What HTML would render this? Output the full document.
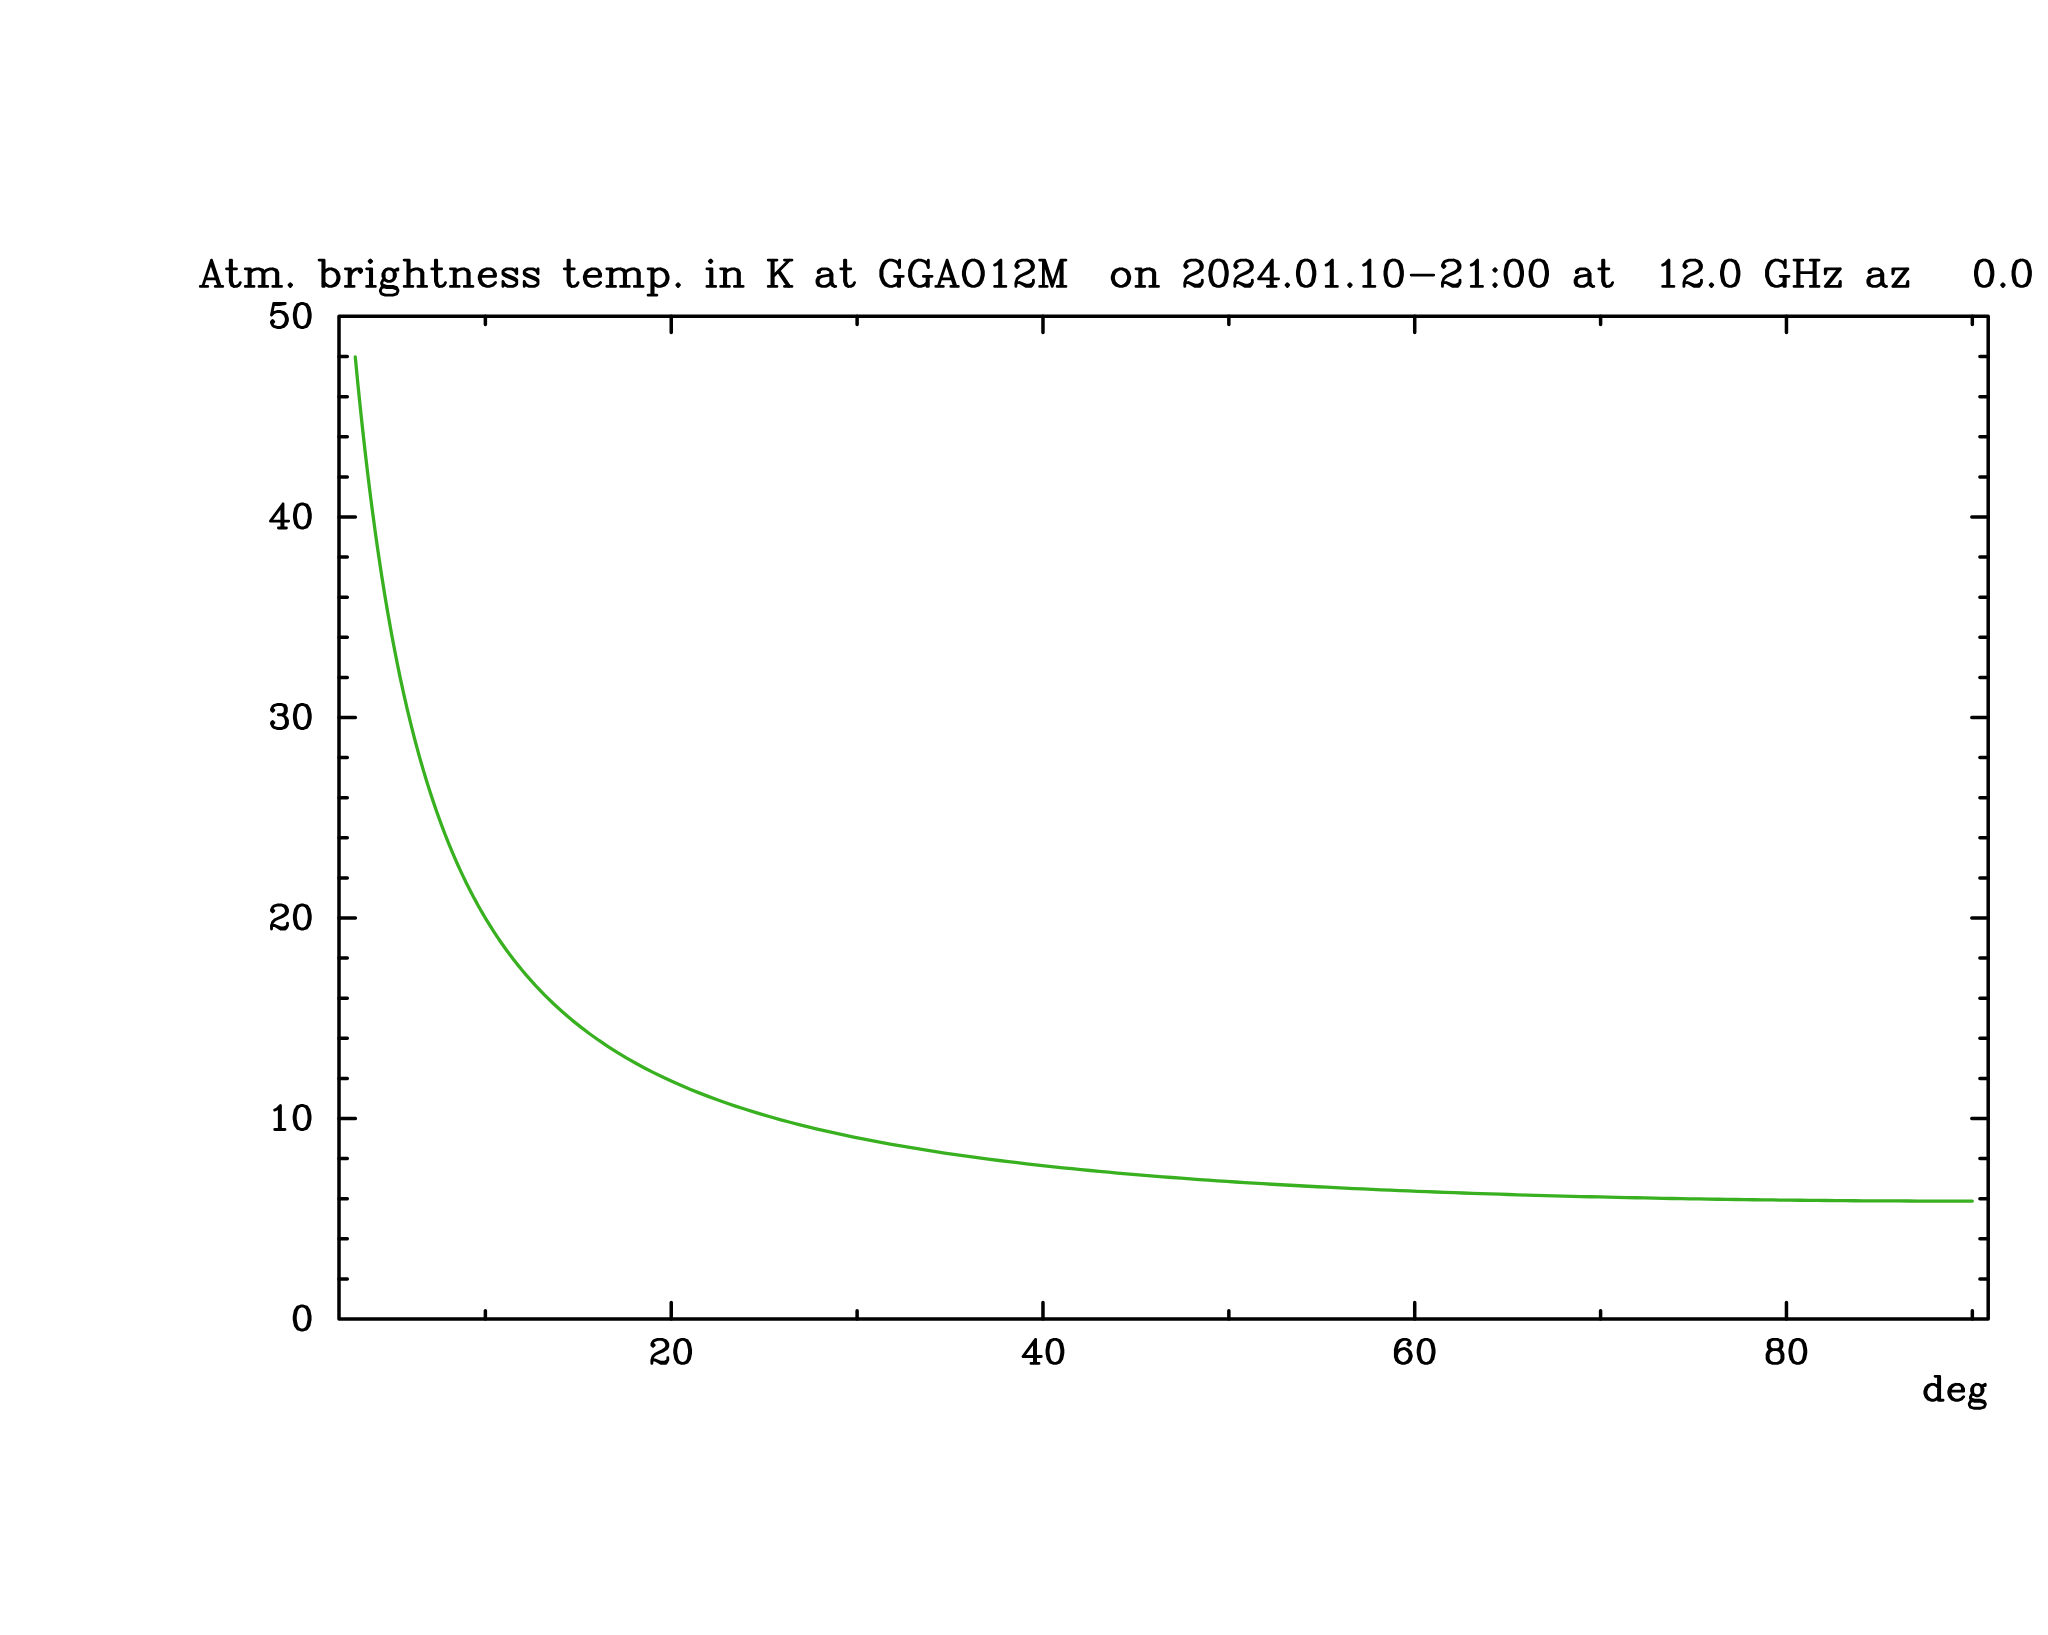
<!DOCTYPE html>
<html><head><meta charset="utf-8"><title>Atm. brightness temp.</title><style>
html,body{margin:0;padding:0;background:#fff;overflow:hidden;}
svg{display:block;}
</style></head><body>
<svg width="2048" height="1635" viewBox="0 0 2048 1635">
<rect width="2048" height="1635" fill="#fff"/>
<g fill="none" stroke="#000" stroke-linecap="round" stroke-linejoin="round">
<path stroke-width="3.5" d="M339 316.2H1988.2V1319H339Z"/>
<path stroke-width="3.5" d="M485.37 1319V1310.7M485.37 316.2V324.5M671.24 1319V1302.6M671.24 316.2V332.6M857.11 1319V1310.7M857.11 316.2V324.5M1042.98 1319V1302.6M1042.98 316.2V332.6M1228.85 1319V1310.7M1228.85 316.2V324.5M1414.72 1319V1302.6M1414.72 316.2V332.6M1600.59 1319V1310.7M1600.59 316.2V324.5M1786.46 1319V1302.6M1786.46 316.2V332.6M1972.33 1319V1310.7M1972.33 316.2V324.5M339 1278.9H347.3M1988.2 1278.9H1979.9M339 1238.8H347.3M1988.2 1238.8H1979.9M339 1198.7H347.3M1988.2 1198.7H1979.9M339 1158.6H347.3M1988.2 1158.6H1979.9M339 1118.5H355.4M1988.2 1118.5H1971.8M339 1078.4H347.3M1988.2 1078.4H1979.9M339 1038.3H347.3M1988.2 1038.3H1979.9M339 998.2H347.3M1988.2 998.2H1979.9M339 958.1H347.3M1988.2 958.1H1979.9M339 918H355.4M1988.2 918H1971.8M339 877.9H347.3M1988.2 877.9H1979.9M339 837.8H347.3M1988.2 837.8H1979.9M339 797.7H347.3M1988.2 797.7H1979.9M339 757.6H347.3M1988.2 757.6H1979.9M339 717.5H355.4M1988.2 717.5H1971.8M339 677.4H347.3M1988.2 677.4H1979.9M339 637.3H347.3M1988.2 637.3H1979.9M339 597.2H347.3M1988.2 597.2H1979.9M339 557.1H347.3M1988.2 557.1H1979.9M339 517H355.4M1988.2 517H1971.8M339 476.9H347.3M1988.2 476.9H1979.9M339 436.8H347.3M1988.2 436.8H1979.9M339 396.7H347.3M1988.2 396.7H1979.9M339 356.6H347.3M1988.2 356.6H1979.9"/>
<path stroke-width="2.85" d="M211.5 260.1 202.74 286.38M211.5 260.1 220.26 286.38M211.5 263.86 219.01 286.38M205.25 278.87 216.5 278.87M200.24 286.38 207.75 286.38M215.25 286.38 222.76 286.38M230.27 260.1 230.27 281.37 231.52 285.12 234.02 286.38 236.52 286.38 239.02 285.12 240.27 282.62M231.52 260.1 231.52 281.37 232.77 285.12 234.02 286.38M226.51 268.86 236.52 268.86M249.03 268.86 249.03 286.38M250.28 268.86 250.28 286.38M250.28 272.61 252.78 270.11 256.54 268.86 259.04 268.86 262.79 270.11 264.04 272.61 264.04 286.38M259.04 268.86 261.54 270.11 262.79 272.61 262.79 286.38M264.04 272.61 266.54 270.11 270.3 268.86 272.8 268.86 276.55 270.11 277.8 272.61 277.8 286.38M272.8 268.86 275.3 270.11 276.55 272.61 276.55 286.38M245.28 268.86 250.28 268.86M245.28 286.38 254.03 286.38M259.04 286.38 267.8 286.38M272.8 286.38 281.56 286.38M290.31 283.87 289.06 285.12 290.31 286.38 291.56 285.12 290.31 283.87M322.84 260.1 322.84 286.38M324.09 260.1 324.09 286.38M324.09 272.61 326.59 270.11 329.09 268.86 331.6 268.86 335.35 270.11 337.85 272.61 339.1 276.37 339.1 278.87 337.85 282.62 335.35 285.12 331.6 286.38 329.09 286.38 326.59 285.12 324.09 282.62M331.6 268.86 334.1 270.11 336.6 272.61 337.85 276.37 337.85 278.87 336.6 282.62 334.1 285.12 331.6 286.38M319.09 260.1 324.09 260.1M349.11 268.86 349.11 286.38M350.36 268.86 350.36 286.38M350.36 276.37 351.61 272.61 354.11 270.11 356.62 268.86 360.37 268.86 361.62 270.11 361.62 271.36 360.37 272.61 359.12 271.36 360.37 270.11M345.36 268.86 350.36 268.86M345.36 286.38 354.11 286.38M370.38 260.1 369.13 261.35 370.38 262.61 371.63 261.35 370.38 260.1M370.38 268.86 370.38 286.38M371.63 268.86 371.63 286.38M366.62 268.86 371.63 268.86M366.62 286.38 375.38 286.38M387.89 268.86 385.39 270.11 384.14 271.36 382.89 273.87 382.89 276.37 384.14 278.87 385.39 280.12 387.89 281.37 390.39 281.37 392.89 280.12 394.15 278.87 395.4 276.37 395.4 273.87 394.15 271.36 392.89 270.11 390.39 268.86 387.89 268.86M385.39 270.11 384.14 272.61 384.14 277.62 385.39 280.12M392.89 280.12 394.15 277.62 394.15 272.61 392.89 270.11M394.15 271.36 395.4 270.11 397.9 268.86 397.9 270.11 395.4 270.11M384.14 278.87 382.89 280.12 381.64 282.62 381.64 283.87 382.89 286.38 386.64 287.63 392.89 287.63 396.65 288.88 397.9 290.13M381.64 283.87 382.89 285.12 386.64 286.38 392.89 286.38 396.65 287.63 397.9 290.13 397.9 291.38 396.65 293.88 392.89 295.13 385.39 295.13 381.64 293.88 380.38 291.38 380.38 290.13 381.64 287.63 385.39 286.38M407.91 260.1 407.91 286.38M409.16 260.1 409.16 286.38M409.16 272.61 411.66 270.11 415.41 268.86 417.91 268.86 421.67 270.11 422.92 272.61 422.92 286.38M417.91 268.86 420.42 270.11 421.67 272.61 421.67 286.38M404.15 260.1 409.16 260.1M404.15 286.38 412.91 286.38M417.91 286.38 426.67 286.38M435.43 260.1 435.43 281.37 436.68 285.12 439.18 286.38 441.68 286.38 444.19 285.12 445.44 282.62M436.68 260.1 436.68 281.37 437.93 285.12 439.18 286.38M431.68 268.86 441.68 268.86M454.19 268.86 454.19 286.38M455.44 268.86 455.44 286.38M455.44 272.61 457.95 270.11 461.7 268.86 464.2 268.86 467.95 270.11 469.21 272.61 469.21 286.38M464.2 268.86 466.7 270.11 467.95 272.61 467.95 286.38M450.44 268.86 455.44 268.86M450.44 286.38 459.2 286.38M464.2 286.38 472.96 286.38M480.46 276.37 495.48 276.37 495.48 273.87 494.23 271.36 492.97 270.11 490.47 268.86 486.72 268.86 482.97 270.11 480.46 272.61 479.21 276.37 479.21 278.87 480.46 282.62 482.97 285.12 486.72 286.38 489.22 286.38 492.97 285.12 495.48 282.62M494.23 276.37 494.23 272.61 492.97 270.11M486.72 268.86 484.22 270.11 481.72 272.61 480.46 276.37 480.46 278.87 481.72 282.62 484.22 285.12 486.72 286.38M515.49 271.36 516.74 268.86 516.74 273.87 515.49 271.36 514.24 270.11 511.74 268.86 506.74 268.86 504.23 270.11 502.98 271.36 502.98 273.87 504.23 275.12 506.74 276.37 512.99 278.87 515.49 280.12 516.74 281.37M502.98 272.61 504.23 273.87 506.74 275.12 512.99 277.62 515.49 278.87 516.74 280.12 516.74 283.87 515.49 285.12 512.99 286.38 507.99 286.38 505.48 285.12 504.23 283.87 502.98 281.37 502.98 286.38 504.23 283.87M536.76 271.36 538.01 268.86 538.01 273.87 536.76 271.36 535.51 270.11 533.01 268.86 528 268.86 525.5 270.11 524.25 271.36 524.25 273.87 525.5 275.12 528 276.37 534.26 278.87 536.76 280.12 538.01 281.37M524.25 272.61 525.5 273.87 528 275.12 534.26 277.62 536.76 278.87 538.01 280.12 538.01 283.87 536.76 285.12 534.26 286.38 529.25 286.38 526.75 285.12 525.5 283.87 524.25 281.37 524.25 286.38 525.5 283.87M568.03 260.1 568.03 281.37 569.29 285.12 571.79 286.38 574.29 286.38 576.79 285.12 578.04 282.62M569.29 260.1 569.29 281.37 570.54 285.12 571.79 286.38M564.28 268.86 574.29 268.86M585.55 276.37 600.56 276.37 600.56 273.87 599.31 271.36 598.06 270.11 595.56 268.86 591.8 268.86 588.05 270.11 585.55 272.61 584.3 276.37 584.3 278.87 585.55 282.62 588.05 285.12 591.8 286.38 594.31 286.38 598.06 285.12 600.56 282.62M599.31 276.37 599.31 272.61 598.06 270.11M591.8 268.86 589.3 270.11 586.8 272.61 585.55 276.37 585.55 278.87 586.8 282.62 589.3 285.12 591.8 286.38M610.57 268.86 610.57 286.38M611.82 268.86 611.82 286.38M611.82 272.61 614.32 270.11 618.08 268.86 620.58 268.86 624.33 270.11 625.58 272.61 625.58 286.38M620.58 268.86 623.08 270.11 624.33 272.61 624.33 286.38M625.58 272.61 628.08 270.11 631.84 268.86 634.34 268.86 638.09 270.11 639.34 272.61 639.34 286.38M634.34 268.86 636.84 270.11 638.09 272.61 638.09 286.38M606.82 268.86 611.82 268.86M606.82 286.38 615.57 286.38M620.58 286.38 629.33 286.38M634.34 286.38 643.1 286.38M651.85 268.86 651.85 295.13M653.1 268.86 653.1 295.13M653.1 272.61 655.61 270.11 658.11 268.86 660.61 268.86 664.36 270.11 666.86 272.61 668.12 276.37 668.12 278.87 666.86 282.62 664.36 285.12 660.61 286.38 658.11 286.38 655.61 285.12 653.1 282.62M660.61 268.86 663.11 270.11 665.61 272.61 666.86 276.37 666.86 278.87 665.61 282.62 663.11 285.12 660.61 286.38M648.1 268.86 653.1 268.86M648.1 295.13 656.86 295.13M678.12 283.87 676.87 285.12 678.12 286.38 679.37 285.12 678.12 283.87M710.65 260.1 709.4 261.35 710.65 262.61 711.9 261.35 710.65 260.1M710.65 268.86 710.65 286.38M711.9 268.86 711.9 286.38M706.9 268.86 711.9 268.86M706.9 286.38 715.65 286.38M724.41 268.86 724.41 286.38M725.66 268.86 725.66 286.38M725.66 272.61 728.16 270.11 731.92 268.86 734.42 268.86 738.17 270.11 739.42 272.61 739.42 286.38M734.42 268.86 736.92 270.11 738.17 272.61 738.17 286.38M720.66 268.86 725.66 268.86M720.66 286.38 729.41 286.38M734.42 286.38 743.17 286.38M771.95 260.1 771.95 286.38M773.2 260.1 773.2 286.38M789.46 260.1 773.2 276.37M779.45 271.36 789.46 286.38M778.2 271.36 788.21 286.38M768.19 260.1 776.95 260.1M784.46 260.1 791.96 260.1M768.19 286.38 776.95 286.38M784.46 286.38 791.96 286.38M819.49 271.36 819.49 272.61 818.23 272.61 818.23 271.36 819.49 270.11 821.99 268.86 826.99 268.86 829.49 270.11 830.75 271.36 832 273.87 832 282.62 833.25 285.12 834.5 286.38M830.75 271.36 830.75 282.62 832 285.12 834.5 286.38 835.75 286.38M830.75 273.87 829.49 275.12 821.99 276.37 818.23 277.62 816.98 280.12 816.98 282.62 818.23 285.12 821.99 286.38 825.74 286.38 828.24 285.12 830.75 282.62M821.99 276.37 819.49 277.62 818.23 280.12 818.23 282.62 819.49 285.12 821.99 286.38M844.51 260.1 844.51 281.37 845.76 285.12 848.26 286.38 850.76 286.38 853.26 285.12 854.51 282.62M845.76 260.1 845.76 281.37 847.01 285.12 848.26 286.38M840.75 268.86 850.76 268.86M898.3 263.86 899.55 267.61 899.55 260.1 898.3 263.86 895.8 261.35 892.04 260.1 889.54 260.1 885.79 261.35 883.29 263.86 882.04 266.36 880.78 270.11 880.78 276.37 882.04 280.12 883.29 282.62 885.79 285.12 889.54 286.38 892.04 286.38 895.8 285.12 898.3 282.62M889.54 260.1 887.04 261.35 884.54 263.86 883.29 266.36 882.04 270.11 882.04 276.37 883.29 280.12 884.54 282.62 887.04 285.12 889.54 286.38M898.3 276.37 898.3 286.38M899.55 276.37 899.55 286.38M894.55 276.37 903.3 276.37M927.07 263.86 928.32 267.61 928.32 260.1 927.07 263.86 924.57 261.35 920.82 260.1 918.31 260.1 914.56 261.35 912.06 263.86 910.81 266.36 909.56 270.11 909.56 276.37 910.81 280.12 912.06 282.62 914.56 285.12 918.31 286.38 920.82 286.38 924.57 285.12 927.07 282.62M918.31 260.1 915.81 261.35 913.31 263.86 912.06 266.36 910.81 270.11 910.81 276.37 912.06 280.12 913.31 282.62 915.81 285.12 918.31 286.38M927.07 276.37 927.07 286.38M928.32 276.37 928.32 286.38M923.32 276.37 932.08 276.37M947.09 260.1 938.33 286.38M947.09 260.1 955.84 286.38M947.09 263.86 954.59 286.38M940.83 278.87 952.09 278.87M935.83 286.38 943.33 286.38M950.84 286.38 958.35 286.38M972.11 260.1 968.35 261.35 965.85 263.86 964.6 266.36 963.35 271.36 963.35 275.12 964.6 280.12 965.85 282.62 968.35 285.12 972.11 286.38 974.61 286.38 978.36 285.12 980.86 282.62 982.12 280.12 983.37 275.12 983.37 271.36 982.12 266.36 980.86 263.86 978.36 261.35 974.61 260.1 972.11 260.1M972.11 260.1 969.61 261.35 967.1 263.86 965.85 266.36 964.6 271.36 964.6 275.12 965.85 280.12 967.1 282.62 969.61 285.12 972.11 286.38M974.61 286.38 977.11 285.12 979.61 282.62 980.86 280.12 982.12 275.12 982.12 271.36 980.86 266.36 979.61 263.86 977.11 261.35 974.61 260.1M994.63 265.11 997.13 263.86 1000.88 260.1 1000.88 286.38M999.63 261.35 999.63 286.38M994.63 286.38 1005.88 286.38M1017.14 265.11 1018.39 266.36 1017.14 267.61 1015.89 266.36 1015.89 265.11 1017.14 262.61 1018.39 261.35 1022.15 260.1 1027.15 260.1 1030.9 261.35 1032.16 262.61 1033.41 265.11 1033.41 267.61 1032.16 270.11 1028.4 272.61 1022.15 275.12 1019.65 276.37 1017.14 278.87 1015.89 282.62 1015.89 286.38M1027.15 260.1 1029.65 261.35 1030.9 262.61 1032.16 265.11 1032.16 267.61 1030.9 270.11 1027.15 272.61 1022.15 275.12M1015.89 283.87 1017.14 282.62 1019.65 282.62 1025.9 285.12 1029.65 285.12 1032.16 283.87 1033.41 282.62M1019.65 282.62 1025.9 286.38 1030.9 286.38 1032.16 285.12 1033.41 282.62 1033.41 280.12M1043.41 260.1 1043.41 286.38M1044.67 260.1 1052.17 282.62M1043.41 260.1 1052.17 286.38M1060.93 260.1 1052.17 286.38M1060.93 260.1 1060.93 286.38M1062.18 260.1 1062.18 286.38M1039.66 260.1 1044.67 260.1M1060.93 260.1 1065.93 260.1M1039.66 286.38 1047.17 286.38M1057.18 286.38 1065.93 286.38M1119.73 268.86 1115.97 270.11 1113.47 272.61 1112.22 276.37 1112.22 278.87 1113.47 282.62 1115.97 285.12 1119.73 286.38 1122.23 286.38 1125.98 285.12 1128.48 282.62 1129.73 278.87 1129.73 276.37 1128.48 272.61 1125.98 270.11 1122.23 268.86 1119.73 268.86M1119.73 268.86 1117.22 270.11 1114.72 272.61 1113.47 276.37 1113.47 278.87 1114.72 282.62 1117.22 285.12 1119.73 286.38M1122.23 286.38 1124.73 285.12 1127.23 282.62 1128.48 278.87 1128.48 276.37 1127.23 272.61 1124.73 270.11 1122.23 268.86M1139.74 268.86 1139.74 286.38M1140.99 268.86 1140.99 286.38M1140.99 272.61 1143.49 270.11 1147.25 268.86 1149.75 268.86 1153.5 270.11 1154.75 272.61 1154.75 286.38M1149.75 268.86 1152.25 270.11 1153.5 272.61 1153.5 286.38M1135.99 268.86 1140.99 268.86M1135.99 286.38 1144.75 286.38M1149.75 286.38 1158.51 286.38M1186.03 265.11 1187.28 266.36 1186.03 267.61 1184.78 266.36 1184.78 265.11 1186.03 262.61 1187.28 261.35 1191.03 260.1 1196.04 260.1 1199.79 261.35 1201.04 262.61 1202.29 265.11 1202.29 267.61 1201.04 270.11 1197.29 272.61 1191.03 275.12 1188.53 276.37 1186.03 278.87 1184.78 282.62 1184.78 286.38M1196.04 260.1 1198.54 261.35 1199.79 262.61 1201.04 265.11 1201.04 267.61 1199.79 270.11 1196.04 272.61 1191.03 275.12M1184.78 283.87 1186.03 282.62 1188.53 282.62 1194.79 285.12 1198.54 285.12 1201.04 283.87 1202.29 282.62M1188.53 282.62 1194.79 286.38 1199.79 286.38 1201.04 285.12 1202.29 282.62 1202.29 280.12M1217.3 260.1 1213.55 261.35 1211.05 265.11 1209.8 271.36 1209.8 275.12 1211.05 281.37 1213.55 285.12 1217.3 286.38 1219.81 286.38 1223.56 285.12 1226.06 281.37 1227.31 275.12 1227.31 271.36 1226.06 265.11 1223.56 261.35 1219.81 260.1 1217.3 260.1M1217.3 260.1 1214.8 261.35 1213.55 262.61 1212.3 265.11 1211.05 271.36 1211.05 275.12 1212.3 281.37 1213.55 283.87 1214.8 285.12 1217.3 286.38M1219.81 286.38 1222.31 285.12 1223.56 283.87 1224.81 281.37 1226.06 275.12 1226.06 271.36 1224.81 265.11 1223.56 262.61 1222.31 261.35 1219.81 260.1M1236.07 265.11 1237.32 266.36 1236.07 267.61 1234.82 266.36 1234.82 265.11 1236.07 262.61 1237.32 261.35 1241.07 260.1 1246.08 260.1 1249.83 261.35 1251.08 262.61 1252.33 265.11 1252.33 267.61 1251.08 270.11 1247.33 272.61 1241.07 275.12 1238.57 276.37 1236.07 278.87 1234.82 282.62 1234.82 286.38M1246.08 260.1 1248.58 261.35 1249.83 262.61 1251.08 265.11 1251.08 267.61 1249.83 270.11 1246.08 272.61 1241.07 275.12M1234.82 283.87 1236.07 282.62 1238.57 282.62 1244.83 285.12 1248.58 285.12 1251.08 283.87 1252.33 282.62M1238.57 282.62 1244.83 286.38 1249.83 286.38 1251.08 285.12 1252.33 282.62 1252.33 280.12M1271.1 262.61 1271.1 286.38M1272.35 260.1 1272.35 286.38M1272.35 260.1 1258.59 278.87 1278.6 278.87M1267.34 286.38 1276.1 286.38M1287.36 283.87 1286.11 285.12 1287.36 286.38 1288.61 285.12 1287.36 283.87M1304.87 260.1 1301.12 261.35 1298.62 265.11 1297.37 271.36 1297.37 275.12 1298.62 281.37 1301.12 285.12 1304.87 286.38 1307.38 286.38 1311.13 285.12 1313.63 281.37 1314.88 275.12 1314.88 271.36 1313.63 265.11 1311.13 261.35 1307.38 260.1 1304.87 260.1M1304.87 260.1 1302.37 261.35 1301.12 262.61 1299.87 265.11 1298.62 271.36 1298.62 275.12 1299.87 281.37 1301.12 283.87 1302.37 285.12 1304.87 286.38M1307.38 286.38 1309.88 285.12 1311.13 283.87 1312.38 281.37 1313.63 275.12 1313.63 271.36 1312.38 265.11 1311.13 262.61 1309.88 261.35 1307.38 260.1M1326.14 265.11 1328.64 263.86 1332.4 260.1 1332.4 286.38M1331.14 261.35 1331.14 286.38M1326.14 286.38 1337.4 286.38M1349.91 283.87 1348.66 285.12 1349.91 286.38 1351.16 285.12 1349.91 283.87M1363.67 265.11 1366.17 263.86 1369.93 260.1 1369.93 286.38M1368.67 261.35 1368.67 286.38M1363.67 286.38 1374.93 286.38M1392.44 260.1 1388.69 261.35 1386.19 265.11 1384.94 271.36 1384.94 275.12 1386.19 281.37 1388.69 285.12 1392.44 286.38 1394.95 286.38 1398.7 285.12 1401.2 281.37 1402.45 275.12 1402.45 271.36 1401.2 265.11 1398.7 261.35 1394.95 260.1 1392.44 260.1M1392.44 260.1 1389.94 261.35 1388.69 262.61 1387.44 265.11 1386.19 271.36 1386.19 275.12 1387.44 281.37 1388.69 283.87 1389.94 285.12 1392.44 286.38M1394.95 286.38 1397.45 285.12 1398.7 283.87 1399.95 281.37 1401.2 275.12 1401.2 271.36 1399.95 265.11 1398.7 262.61 1397.45 261.35 1394.95 260.1M1411.21 275.12 1433.73 275.12M1443.73 265.11 1444.99 266.36 1443.73 267.61 1442.48 266.36 1442.48 265.11 1443.73 262.61 1444.99 261.35 1448.74 260.1 1453.74 260.1 1457.5 261.35 1458.75 262.61 1460 265.11 1460 267.61 1458.75 270.11 1454.99 272.61 1448.74 275.12 1446.24 276.37 1443.73 278.87 1442.48 282.62 1442.48 286.38M1453.74 260.1 1456.24 261.35 1457.5 262.61 1458.75 265.11 1458.75 267.61 1457.5 270.11 1453.74 272.61 1448.74 275.12M1442.48 283.87 1443.73 282.62 1446.24 282.62 1452.49 285.12 1456.24 285.12 1458.75 283.87 1460 282.62M1446.24 282.62 1452.49 286.38 1457.5 286.38 1458.75 285.12 1460 282.62 1460 280.12M1471.26 265.11 1473.76 263.86 1477.51 260.1 1477.51 286.38M1476.26 261.35 1476.26 286.38M1471.26 286.38 1482.52 286.38M1495.03 268.86 1493.77 270.11 1495.03 271.36 1496.28 270.11 1495.03 268.86M1495.03 283.87 1493.77 285.12 1495.03 286.38 1496.28 285.12 1495.03 283.87M1512.54 260.1 1508.79 261.35 1506.28 265.11 1505.03 271.36 1505.03 275.12 1506.28 281.37 1508.79 285.12 1512.54 286.38 1515.04 286.38 1518.79 285.12 1521.3 281.37 1522.55 275.12 1522.55 271.36 1521.3 265.11 1518.79 261.35 1515.04 260.1 1512.54 260.1M1512.54 260.1 1510.04 261.35 1508.79 262.61 1507.54 265.11 1506.28 271.36 1506.28 275.12 1507.54 281.37 1508.79 283.87 1510.04 285.12 1512.54 286.38M1515.04 286.38 1517.54 285.12 1518.79 283.87 1520.05 281.37 1521.3 275.12 1521.3 271.36 1520.05 265.11 1518.79 262.61 1517.54 261.35 1515.04 260.1M1537.56 260.1 1533.81 261.35 1531.3 265.11 1530.05 271.36 1530.05 275.12 1531.3 281.37 1533.81 285.12 1537.56 286.38 1540.06 286.38 1543.81 285.12 1546.32 281.37 1547.57 275.12 1547.57 271.36 1546.32 265.11 1543.81 261.35 1540.06 260.1 1537.56 260.1M1537.56 260.1 1535.06 261.35 1533.81 262.61 1532.56 265.11 1531.3 271.36 1531.3 275.12 1532.56 281.37 1533.81 283.87 1535.06 285.12 1537.56 286.38M1540.06 286.38 1542.56 285.12 1543.81 283.87 1545.07 281.37 1546.32 275.12 1546.32 271.36 1545.07 265.11 1543.81 262.61 1542.56 261.35 1540.06 260.1M1577.59 271.36 1577.59 272.61 1576.34 272.61 1576.34 271.36 1577.59 270.11 1580.09 268.86 1585.1 268.86 1587.6 270.11 1588.85 271.36 1590.1 273.87 1590.1 282.62 1591.35 285.12 1592.6 286.38M1588.85 271.36 1588.85 282.62 1590.1 285.12 1592.6 286.38 1593.85 286.38M1588.85 273.87 1587.6 275.12 1580.09 276.37 1576.34 277.62 1575.09 280.12 1575.09 282.62 1576.34 285.12 1580.09 286.38 1583.85 286.38 1586.35 285.12 1588.85 282.62M1580.09 276.37 1577.59 277.62 1576.34 280.12 1576.34 282.62 1577.59 285.12 1580.09 286.38M1602.61 260.1 1602.61 281.37 1603.86 285.12 1606.36 286.38 1608.87 286.38 1611.37 285.12 1612.62 282.62M1603.86 260.1 1603.86 281.37 1605.11 285.12 1606.36 286.38M1598.86 268.86 1608.87 268.86M1662.66 265.11 1665.16 263.86 1668.91 260.1 1668.91 286.38M1667.66 261.35 1667.66 286.38M1662.66 286.38 1673.92 286.38M1685.18 265.11 1686.43 266.36 1685.18 267.61 1683.93 266.36 1683.93 265.11 1685.18 262.61 1686.43 261.35 1690.18 260.1 1695.19 260.1 1698.94 261.35 1700.19 262.61 1701.44 265.11 1701.44 267.61 1700.19 270.11 1696.44 272.61 1690.18 275.12 1687.68 276.37 1685.18 278.87 1683.93 282.62 1683.93 286.38M1695.19 260.1 1697.69 261.35 1698.94 262.61 1700.19 265.11 1700.19 267.61 1698.94 270.11 1695.19 272.61 1690.18 275.12M1683.93 283.87 1685.18 282.62 1687.68 282.62 1693.93 285.12 1697.69 285.12 1700.19 283.87 1701.44 282.62M1687.68 282.62 1693.93 286.38 1698.94 286.38 1700.19 285.12 1701.44 282.62 1701.44 280.12M1711.45 283.87 1710.2 285.12 1711.45 286.38 1712.7 285.12 1711.45 283.87M1728.96 260.1 1725.21 261.35 1722.71 265.11 1721.46 271.36 1721.46 275.12 1722.71 281.37 1725.21 285.12 1728.96 286.38 1731.46 286.38 1735.22 285.12 1737.72 281.37 1738.97 275.12 1738.97 271.36 1737.72 265.11 1735.22 261.35 1731.46 260.1 1728.96 260.1M1728.96 260.1 1726.46 261.35 1725.21 262.61 1723.96 265.11 1722.71 271.36 1722.71 275.12 1723.96 281.37 1725.21 283.87 1726.46 285.12 1728.96 286.38M1731.46 286.38 1733.97 285.12 1735.22 283.87 1736.47 281.37 1737.72 275.12 1737.72 271.36 1736.47 265.11 1735.22 262.61 1733.97 261.35 1731.46 260.1M1784.01 263.86 1785.26 267.61 1785.26 260.1 1784.01 263.86 1781.5 261.35 1777.75 260.1 1775.25 260.1 1771.5 261.35 1768.99 263.86 1767.74 266.36 1766.49 270.11 1766.49 276.37 1767.74 280.12 1768.99 282.62 1771.5 285.12 1775.25 286.38 1777.75 286.38 1781.5 285.12 1784.01 282.62M1775.25 260.1 1772.75 261.35 1770.25 263.86 1768.99 266.36 1767.74 270.11 1767.74 276.37 1768.99 280.12 1770.25 282.62 1772.75 285.12 1775.25 286.38M1784.01 276.37 1784.01 286.38M1785.26 276.37 1785.26 286.38M1780.25 276.37 1789.01 276.37M1797.77 260.1 1797.77 286.38M1799.02 260.1 1799.02 286.38M1814.03 260.1 1814.03 286.38M1815.28 260.1 1815.28 286.38M1794.01 260.1 1802.77 260.1M1810.28 260.1 1819.03 260.1M1799.02 272.61 1814.03 272.61M1794.01 286.38 1802.77 286.38M1810.28 286.38 1819.03 286.38M1839.05 268.86 1825.29 286.38M1840.3 268.86 1826.54 286.38M1826.54 268.86 1825.29 273.87 1825.29 268.86 1840.3 268.86M1825.29 286.38 1840.3 286.38 1840.3 281.37 1839.05 286.38M1870.33 271.36 1870.33 272.61 1869.07 272.61 1869.07 271.36 1870.33 270.11 1872.83 268.86 1877.83 268.86 1880.33 270.11 1881.58 271.36 1882.84 273.87 1882.84 282.62 1884.09 285.12 1885.34 286.38M1881.58 271.36 1881.58 282.62 1882.84 285.12 1885.34 286.38 1886.59 286.38M1881.58 273.87 1880.33 275.12 1872.83 276.37 1869.07 277.62 1867.82 280.12 1867.82 282.62 1869.07 285.12 1872.83 286.38 1876.58 286.38 1879.08 285.12 1881.58 282.62M1872.83 276.37 1870.33 277.62 1869.07 280.12 1869.07 282.62 1870.33 285.12 1872.83 286.38M1906.6 268.86 1892.84 286.38M1907.86 268.86 1894.09 286.38M1894.09 268.86 1892.84 273.87 1892.84 268.86 1907.86 268.86M1892.84 286.38 1907.86 286.38 1907.86 281.37 1906.6 286.38M1982.92 260.1 1979.16 261.35 1976.66 265.11 1975.41 271.36 1975.41 275.12 1976.66 281.37 1979.16 285.12 1982.92 286.38 1985.42 286.38 1989.17 285.12 1991.67 281.37 1992.92 275.12 1992.92 271.36 1991.67 265.11 1989.17 261.35 1985.42 260.1 1982.92 260.1M1982.92 260.1 1980.41 261.35 1979.16 262.61 1977.91 265.11 1976.66 271.36 1976.66 275.12 1977.91 281.37 1979.16 283.87 1980.41 285.12 1982.92 286.38M1985.42 286.38 1987.92 285.12 1989.17 283.87 1990.42 281.37 1991.67 275.12 1991.67 271.36 1990.42 265.11 1989.17 262.61 1987.92 261.35 1985.42 260.1M2002.93 283.87 2001.68 285.12 2002.93 286.38 2004.18 285.12 2002.93 283.87M2020.45 260.1 2016.69 261.35 2014.19 265.11 2012.94 271.36 2012.94 275.12 2014.19 281.37 2016.69 285.12 2020.45 286.38 2022.95 286.38 2026.7 285.12 2029.2 281.37 2030.45 275.12 2030.45 271.36 2029.2 265.11 2026.7 261.35 2022.95 260.1 2020.45 260.1M2020.45 260.1 2017.94 261.35 2016.69 262.61 2015.44 265.11 2014.19 271.36 2014.19 275.12 2015.44 281.37 2016.69 283.87 2017.94 285.12 2020.45 286.38M2022.95 286.38 2025.45 285.12 2026.7 283.87 2027.95 281.37 2029.2 275.12 2029.2 271.36 2027.95 265.11 2026.7 262.61 2025.45 261.35 2022.95 260.1M273.75 303.52 271.47 314.92M271.47 314.92 273.75 312.64 277.17 311.5 280.59 311.5 284.01 312.64 286.29 314.92 287.43 318.34 287.43 320.62 286.29 324.04 284.01 326.32 280.59 327.46 277.17 327.46 273.75 326.32 272.61 325.18 271.47 322.9 271.47 321.76 272.61 320.62 273.75 321.76 272.61 322.9M280.59 311.5 282.87 312.64 285.15 314.92 286.29 318.34 286.29 320.62 285.15 324.04 282.87 326.32 280.59 327.46M273.75 303.52 285.15 303.52M273.75 304.66 279.45 304.66 285.15 303.52M301.11 303.52 297.69 304.66 295.41 308.08 294.27 313.78 294.27 317.2 295.41 322.9 297.69 326.32 301.11 327.46 303.39 327.46 306.81 326.32 309.09 322.9 310.23 317.2 310.23 313.78 309.09 308.08 306.81 304.66 303.39 303.52 301.11 303.52M301.11 303.52 298.83 304.66 297.69 305.8 296.55 308.08 295.41 313.78 295.41 317.2 296.55 322.9 297.69 325.18 298.83 326.32 301.11 327.46M303.39 327.46 305.67 326.32 306.81 325.18 307.95 322.9 309.09 317.2 309.09 313.78 307.95 308.08 306.81 305.8 305.67 304.66 303.39 303.52M281.85 506.3 281.85 527.96M282.99 504.02 282.99 527.96M282.99 504.02 270.45 521.12 288.69 521.12M278.43 527.96 286.41 527.96M301.23 504.02 297.81 505.16 295.53 508.58 294.39 514.28 294.39 517.7 295.53 523.4 297.81 526.82 301.23 527.96 303.51 527.96 306.93 526.82 309.21 523.4 310.35 517.7 310.35 514.28 309.21 508.58 306.93 505.16 303.51 504.02 301.23 504.02M301.23 504.02 298.95 505.16 297.81 506.3 296.67 508.58 295.53 514.28 295.53 517.7 296.67 523.4 297.81 525.68 298.95 526.82 301.23 527.96M303.51 527.96 305.79 526.82 306.93 525.68 308.07 523.4 309.21 517.7 309.21 514.28 308.07 508.58 306.93 506.3 305.79 505.16 303.51 504.02M272.66 709.08 273.8 710.22 272.66 711.36 271.52 710.22 271.52 709.08 272.66 706.8 273.8 705.66 277.22 704.52 281.78 704.52 285.2 705.66 286.34 707.94 286.34 711.36 285.2 713.64 281.78 714.78 278.36 714.78M281.78 704.52 284.06 705.66 285.2 707.94 285.2 711.36 284.06 713.64 281.78 714.78M281.78 714.78 284.06 715.92 286.34 718.2 287.48 720.48 287.48 723.9 286.34 726.18 285.2 727.32 281.78 728.46 277.22 728.46 273.8 727.32 272.66 726.18 271.52 723.9 271.52 722.76 272.66 721.62 273.8 722.76 272.66 723.9M285.2 717.06 286.34 720.48 286.34 723.9 285.2 726.18 284.06 727.32 281.78 728.46M301.16 704.52 297.74 705.66 295.46 709.08 294.32 714.78 294.32 718.2 295.46 723.9 297.74 727.32 301.16 728.46 303.44 728.46 306.86 727.32 309.14 723.9 310.28 718.2 310.28 714.78 309.14 709.08 306.86 705.66 303.44 704.52 301.16 704.52M301.16 704.52 298.88 705.66 297.74 706.8 296.6 709.08 295.46 714.78 295.46 718.2 296.6 723.9 297.74 726.18 298.88 727.32 301.16 728.46M303.44 728.46 305.72 727.32 306.86 726.18 308 723.9 309.14 718.2 309.14 714.78 308 709.08 306.86 706.8 305.72 705.66 303.44 704.52M272.66 909.58 273.8 910.72 272.66 911.86 271.52 910.72 271.52 909.58 272.66 907.3 273.8 906.16 277.22 905.02 281.78 905.02 285.2 906.16 286.34 907.3 287.48 909.58 287.48 911.86 286.34 914.14 282.92 916.42 277.22 918.7 274.94 919.84 272.66 922.12 271.52 925.54 271.52 928.96M281.78 905.02 284.06 906.16 285.2 907.3 286.34 909.58 286.34 911.86 285.2 914.14 281.78 916.42 277.22 918.7M271.52 926.68 272.66 925.54 274.94 925.54 280.64 927.82 284.06 927.82 286.34 926.68 287.48 925.54M274.94 925.54 280.64 928.96 285.2 928.96 286.34 927.82 287.48 925.54 287.48 923.26M301.16 905.02 297.74 906.16 295.46 909.58 294.32 915.28 294.32 918.7 295.46 924.4 297.74 927.82 301.16 928.96 303.44 928.96 306.86 927.82 309.14 924.4 310.28 918.7 310.28 915.28 309.14 909.58 306.86 906.16 303.44 905.02 301.16 905.02M301.16 905.02 298.88 906.16 297.74 907.3 296.6 909.58 295.46 915.28 295.46 918.7 296.6 924.4 297.74 926.68 298.88 927.82 301.16 928.96M303.44 928.96 305.72 927.82 306.86 926.68 308 924.4 309.14 918.7 309.14 915.28 308 909.58 306.86 907.3 305.72 906.16 303.44 905.02M274.73 1110.08 277.01 1108.94 280.43 1105.52 280.43 1129.46M279.29 1106.66 279.29 1129.46M274.73 1129.46 284.99 1129.46M300.95 1105.52 297.53 1106.66 295.25 1110.08 294.11 1115.78 294.11 1119.2 295.25 1124.9 297.53 1128.32 300.95 1129.46 303.23 1129.46 306.65 1128.32 308.93 1124.9 310.07 1119.2 310.07 1115.78 308.93 1110.08 306.65 1106.66 303.23 1105.52 300.95 1105.52M300.95 1105.52 298.67 1106.66 297.53 1107.8 296.39 1110.08 295.25 1115.78 295.25 1119.2 296.39 1124.9 297.53 1127.18 298.67 1128.32 300.95 1129.46M303.23 1129.46 305.51 1128.32 306.65 1127.18 307.79 1124.9 308.93 1119.2 308.93 1115.78 307.79 1110.08 306.65 1107.8 305.51 1106.66 303.23 1105.52M301.01 1306.02 297.59 1307.16 295.31 1310.58 294.17 1316.28 294.17 1319.7 295.31 1325.4 297.59 1328.82 301.01 1329.96 303.29 1329.96 306.71 1328.82 308.99 1325.4 310.13 1319.7 310.13 1316.28 308.99 1310.58 306.71 1307.16 303.29 1306.02 301.01 1306.02M301.01 1306.02 298.73 1307.16 297.59 1308.3 296.45 1310.58 295.31 1316.28 295.31 1319.7 296.45 1325.4 297.59 1327.68 298.73 1328.82 301.01 1329.96M303.29 1329.96 305.57 1328.82 306.71 1327.68 307.85 1325.4 308.99 1319.7 308.99 1316.28 307.85 1310.58 306.71 1308.3 305.57 1307.16 303.29 1306.02M653 1344 654.14 1345.13 653 1346.28 651.86 1345.13 651.86 1344 653 1341.71 654.14 1340.58 657.56 1339.43 662.12 1339.43 665.54 1340.58 666.68 1341.71 667.82 1344 667.82 1346.28 666.68 1348.56 663.26 1350.84 657.56 1353.12 655.28 1354.26 653 1356.54 651.86 1359.95 651.86 1363.38M662.12 1339.43 664.4 1340.58 665.54 1341.71 666.68 1344 666.68 1346.28 665.54 1348.56 662.12 1350.84 657.56 1353.12M651.86 1361.1 653 1359.95 655.28 1359.95 660.98 1362.23 664.4 1362.23 666.68 1361.1 667.82 1359.95M655.28 1359.95 660.98 1363.38 665.54 1363.38 666.68 1362.23 667.82 1359.95 667.82 1357.67M681.5 1339.43 678.08 1340.58 675.8 1344 674.66 1349.69 674.66 1353.12 675.8 1358.82 678.08 1362.23 681.5 1363.38 683.78 1363.38 687.2 1362.23 689.48 1358.82 690.62 1353.12 690.62 1349.69 689.48 1344 687.2 1340.58 683.78 1339.43 681.5 1339.43M681.5 1339.43 679.22 1340.58 678.08 1341.71 676.94 1344 675.8 1349.69 675.8 1353.12 676.94 1358.82 678.08 1361.1 679.22 1362.23 681.5 1363.38M683.78 1363.38 686.06 1362.23 687.2 1361.1 688.34 1358.82 689.48 1353.12 689.48 1349.69 688.34 1344 687.2 1341.71 686.06 1340.58 683.78 1339.43M1034.43 1341.71 1034.43 1363.38M1035.57 1339.43 1035.57 1363.38M1035.57 1339.43 1023.03 1356.54 1041.27 1356.54M1031.01 1363.38 1038.99 1363.38M1053.81 1339.43 1050.39 1340.58 1048.11 1344 1046.97 1349.69 1046.97 1353.12 1048.11 1358.82 1050.39 1362.23 1053.81 1363.38 1056.09 1363.38 1059.51 1362.23 1061.79 1358.82 1062.93 1353.12 1062.93 1349.69 1061.79 1344 1059.51 1340.58 1056.09 1339.43 1053.81 1339.43M1053.81 1339.43 1051.53 1340.58 1050.39 1341.71 1049.25 1344 1048.11 1349.69 1048.11 1353.12 1049.25 1358.82 1050.39 1361.1 1051.53 1362.23 1053.81 1363.38M1056.09 1363.38 1058.37 1362.23 1059.51 1361.1 1060.65 1358.82 1061.79 1353.12 1061.79 1349.69 1060.65 1344 1059.51 1341.71 1058.37 1340.58 1056.09 1339.43M1409.02 1342.86 1407.88 1344 1409.02 1345.13 1410.16 1344 1410.16 1342.86 1409.02 1340.58 1406.74 1339.43 1403.32 1339.43 1399.9 1340.58 1397.62 1342.86 1396.48 1345.13 1395.34 1349.69 1395.34 1356.54 1396.48 1359.95 1398.76 1362.23 1402.18 1363.38 1404.46 1363.38 1407.88 1362.23 1410.16 1359.95 1411.3 1356.54 1411.3 1355.39 1410.16 1351.97 1407.88 1349.69 1404.46 1348.56 1403.32 1348.56 1399.9 1349.69 1397.62 1351.97 1396.48 1355.39M1403.32 1339.43 1401.04 1340.58 1398.76 1342.86 1397.62 1345.13 1396.48 1349.69 1396.48 1356.54 1397.62 1359.95 1399.9 1362.23 1402.18 1363.38M1404.46 1363.38 1406.74 1362.23 1409.02 1359.95 1410.16 1356.54 1410.16 1355.39 1409.02 1351.97 1406.74 1349.69 1404.46 1348.56M1424.98 1339.43 1421.56 1340.58 1419.28 1344 1418.14 1349.69 1418.14 1353.12 1419.28 1358.82 1421.56 1362.23 1424.98 1363.38 1427.26 1363.38 1430.68 1362.23 1432.96 1358.82 1434.1 1353.12 1434.1 1349.69 1432.96 1344 1430.68 1340.58 1427.26 1339.43 1424.98 1339.43M1424.98 1339.43 1422.7 1340.58 1421.56 1341.71 1420.42 1344 1419.28 1349.69 1419.28 1353.12 1420.42 1358.82 1421.56 1361.1 1422.7 1362.23 1424.98 1363.38M1427.26 1363.38 1429.54 1362.23 1430.68 1361.1 1431.82 1358.82 1432.96 1353.12 1432.96 1349.69 1431.82 1344 1430.68 1341.71 1429.54 1340.58 1427.26 1339.43M1772.78 1339.43 1769.36 1340.58 1768.22 1342.86 1768.22 1346.28 1769.36 1348.56 1772.78 1349.69 1777.34 1349.69 1780.76 1348.56 1781.9 1346.28 1781.9 1342.86 1780.76 1340.58 1777.34 1339.43 1772.78 1339.43M1772.78 1339.43 1770.5 1340.58 1769.36 1342.86 1769.36 1346.28 1770.5 1348.56 1772.78 1349.69M1777.34 1349.69 1779.62 1348.56 1780.76 1346.28 1780.76 1342.86 1779.62 1340.58 1777.34 1339.43M1772.78 1349.69 1769.36 1350.84 1768.22 1351.97 1767.08 1354.26 1767.08 1358.82 1768.22 1361.1 1769.36 1362.23 1772.78 1363.38 1777.34 1363.38 1780.76 1362.23 1781.9 1361.1 1783.04 1358.82 1783.04 1354.26 1781.9 1351.97 1780.76 1350.84 1777.34 1349.69M1772.78 1349.69 1770.5 1350.84 1769.36 1351.97 1768.22 1354.26 1768.22 1358.82 1769.36 1361.1 1770.5 1362.23 1772.78 1363.38M1777.34 1363.38 1779.62 1362.23 1780.76 1361.1 1781.9 1358.82 1781.9 1354.26 1780.76 1351.97 1779.62 1350.84 1777.34 1349.69M1796.72 1339.43 1793.3 1340.58 1791.02 1344 1789.88 1349.69 1789.88 1353.12 1791.02 1358.82 1793.3 1362.23 1796.72 1363.38 1799 1363.38 1802.42 1362.23 1804.7 1358.82 1805.84 1353.12 1805.84 1349.69 1804.7 1344 1802.42 1340.58 1799 1339.43 1796.72 1339.43M1796.72 1339.43 1794.44 1340.58 1793.3 1341.71 1792.16 1344 1791.02 1349.69 1791.02 1353.12 1792.16 1358.82 1793.3 1361.1 1794.44 1362.23 1796.72 1363.38M1799 1363.38 1801.28 1362.23 1802.42 1361.1 1803.56 1358.82 1804.7 1353.12 1804.7 1349.69 1803.56 1344 1802.42 1341.71 1801.28 1340.58 1799 1339.43M1938.52 1376.34 1938.52 1400.28M1939.66 1376.34 1939.66 1400.28M1938.52 1387.74 1936.24 1385.46 1933.96 1384.32 1931.68 1384.32 1928.26 1385.46 1925.98 1387.74 1924.84 1391.16 1924.84 1393.44 1925.98 1396.86 1928.26 1399.13 1931.68 1400.28 1933.96 1400.28 1936.24 1399.13 1938.52 1396.86M1931.68 1384.32 1929.4 1385.46 1927.12 1387.74 1925.98 1391.16 1925.98 1393.44 1927.12 1396.86 1929.4 1399.13 1931.68 1400.28M1935.1 1376.34 1939.66 1376.34M1938.52 1400.28 1943.08 1400.28M1949.92 1391.16 1963.6 1391.16 1963.6 1388.88 1962.46 1386.6 1961.32 1385.46 1959.04 1384.32 1955.62 1384.32 1952.2 1385.46 1949.92 1387.74 1948.78 1391.16 1948.78 1393.44 1949.92 1396.86 1952.2 1399.13 1955.62 1400.28 1957.9 1400.28 1961.32 1399.13 1963.6 1396.86M1962.46 1391.16 1962.46 1387.74 1961.32 1385.46M1955.62 1384.32 1953.34 1385.46 1951.06 1387.74 1949.92 1391.16 1949.92 1393.44 1951.06 1396.86 1953.34 1399.13 1955.62 1400.28M1976.14 1384.32 1973.86 1385.46 1972.72 1386.6 1971.58 1388.88 1971.58 1391.16 1972.72 1393.44 1973.86 1394.58 1976.14 1395.72 1978.42 1395.72 1980.7 1394.58 1981.84 1393.44 1982.98 1391.16 1982.98 1388.88 1981.84 1386.6 1980.7 1385.46 1978.42 1384.32 1976.14 1384.32M1973.86 1385.46 1972.72 1387.74 1972.72 1392.3 1973.86 1394.58M1980.7 1394.58 1981.84 1392.3 1981.84 1387.74 1980.7 1385.46M1981.84 1386.6 1982.98 1385.46 1985.26 1384.32 1985.26 1385.46 1982.98 1385.46M1972.72 1393.44 1971.58 1394.58 1970.44 1396.86 1970.44 1398 1971.58 1400.28 1975 1401.42 1980.7 1401.42 1984.12 1402.56 1985.26 1403.7M1970.44 1398 1971.58 1399.13 1975 1400.28 1980.7 1400.28 1984.12 1401.42 1985.26 1403.7 1985.26 1404.84 1984.12 1407.12 1980.7 1408.26 1973.86 1408.26 1970.44 1407.12 1969.3 1404.84 1969.3 1403.7 1970.44 1401.42 1973.86 1400.28"/>
</g>
<polyline points="355.26,356.85 356.67,371.52 358.07,385.79 359.48,399.66 360.88,413.14 362.29,426.26 363.7,439.02 365.1,451.44 366.51,463.52 367.91,475.28 369.32,486.73 370.72,497.88 372.13,508.74 373.54,519.32 374.94,529.63 376.35,539.67 377.75,549.46 379.16,559.01 380.56,568.32 381.97,577.41 383.38,586.27 384.78,594.92 386.19,603.36 387.59,611.6 389,619.65 390.4,627.52 391.81,635.2 393.22,642.71 394.62,650.04 396.03,657.22 397.43,664.23 398.84,671.09 400.24,677.8 401.65,684.37 403.06,690.79 404.46,697.08 405.87,703.24 407.27,709.27 408.68,715.17 410.08,720.96 411.49,726.63 412.9,732.18 414.3,737.62 415.71,742.96 417.11,748.19 418.52,753.32 419.93,758.35 421.33,763.29 422.74,768.13 424.14,772.88 425.55,777.54 426.95,782.12 428.36,786.61 429.77,791.03 431.17,795.36 432.58,799.61 433.98,803.79 435.39,807.9 436.79,811.94 438.2,815.9 439.61,819.8 441.01,823.63 442.42,827.4 443.82,831.1 445.23,834.74 446.63,838.33 448.04,841.85 449.45,845.32 450.85,848.73 452.26,852.08 453.66,855.39 455.07,858.64 456.47,861.84 457.88,864.99 459.29,868.09 460.69,871.14 462.1,874.15 463.5,877.11 464.91,880.03 466.31,882.91 467.72,885.74 469.13,888.53 470.53,891.28 471.94,893.99 473.34,896.66 474.75,899.29 476.15,901.89 477.56,904.45 478.97,906.97 480.37,909.46 481.78,911.92 483.18,914.34 484.59,916.72 485.99,919.08 487.4,921.4 488.81,923.69 490.21,925.95 491.62,928.19 493.02,930.39 494.43,932.56 495.83,934.71 497.24,936.83 498.65,938.92 500.05,940.98 501.46,943.02 502.86,945.03 504.27,947.02 505.68,948.98 507.08,950.92 508.49,952.83 509.89,954.72 511.3,956.59 512.7,958.44 514.11,960.26 515.52,962.06 516.92,963.84 518.33,965.6 519.73,967.34 521.14,969.06 522.54,970.76 526.26,975.16 535.36,985.37 544.45,994.88 553.55,1003.76 562.64,1012.06 571.74,1019.84 580.83,1027.14 589.92,1034.01 599.02,1040.48 608.11,1046.59 617.21,1052.37 626.3,1057.83 635.4,1063.01 644.49,1067.93 653.59,1072.61 662.68,1077.05 671.78,1081.29 680.87,1085.32 689.97,1089.18 699.06,1092.86 708.16,1096.38 717.25,1099.75 726.35,1102.98 735.44,1106.07 744.54,1109.04 753.63,1111.89 762.73,1114.63 771.82,1117.27 780.91,1119.8 790.01,1122.24 799.1,1124.59 808.2,1126.85 817.29,1129.04 826.39,1131.15 835.48,1133.18 844.58,1135.15 853.67,1137.05 862.77,1138.89 871.86,1140.66 880.96,1142.38 890.05,1144.05 899.15,1145.66 908.24,1147.22 917.34,1148.73 926.43,1150.2 935.53,1151.63 944.62,1153.01 953.72,1154.35 962.81,1155.65 971.91,1156.91 981,1158.14 990.09,1159.34 999.19,1160.5 1008.28,1161.62 1017.38,1162.72 1026.47,1163.79 1035.57,1164.83 1044.66,1165.84 1053.76,1166.82 1062.85,1167.78 1071.95,1168.71 1081.04,1169.62 1090.14,1170.5 1099.23,1171.36 1108.33,1172.2 1117.42,1173.02 1126.52,1173.82 1135.61,1174.6 1144.71,1175.36 1153.8,1176.1 1162.9,1176.82 1171.99,1177.52 1181.08,1178.21 1190.18,1178.88 1199.27,1179.53 1208.37,1180.17 1217.46,1180.79 1226.56,1181.4 1235.65,1181.99 1244.75,1182.57 1253.84,1183.14 1262.94,1183.69 1272.03,1184.23 1281.13,1184.75 1290.22,1185.27 1299.32,1185.77 1308.41,1186.26 1317.51,1186.73 1326.6,1187.2 1335.7,1187.66 1344.79,1188.1 1353.89,1188.54 1362.98,1188.96 1372.08,1189.37 1381.17,1189.78 1390.26,1190.17 1399.36,1190.56 1408.45,1190.93 1417.55,1191.3 1426.64,1191.66 1435.74,1192.01 1444.83,1192.35 1453.93,1192.68 1463.02,1193 1472.12,1193.32 1481.21,1193.63 1490.31,1193.93 1499.4,1194.22 1508.5,1194.5 1517.59,1194.78 1526.69,1195.05 1535.78,1195.32 1544.88,1195.57 1553.97,1195.82 1563.07,1196.06 1572.16,1196.3 1581.25,1196.53 1590.35,1196.75 1599.44,1196.97 1608.54,1197.18 1617.63,1197.38 1626.73,1197.58 1635.82,1197.77 1644.92,1197.96 1654.01,1198.14 1663.11,1198.31 1672.2,1198.48 1681.3,1198.64 1690.39,1198.8 1699.49,1198.95 1708.58,1199.1 1717.68,1199.24 1726.77,1199.37 1735.87,1199.5 1744.96,1199.63 1754.06,1199.75 1763.15,1199.86 1772.25,1199.97 1781.34,1200.08 1790.43,1200.17 1799.53,1200.27 1808.62,1200.36 1817.72,1200.44 1826.81,1200.52 1835.91,1200.59 1845,1200.66 1854.1,1200.73 1863.19,1200.79 1872.29,1200.84 1881.38,1200.89 1890.48,1200.93 1899.57,1200.97 1908.67,1201.01 1917.76,1201.04 1926.86,1201.07 1935.95,1201.09 1945.05,1201.1 1954.14,1201.12 1963.24,1201.12 1972.33,1201.12" fill="none" stroke="#38b020" stroke-width="3.3" stroke-linecap="round" stroke-linejoin="round"/>
</svg></body></html>
